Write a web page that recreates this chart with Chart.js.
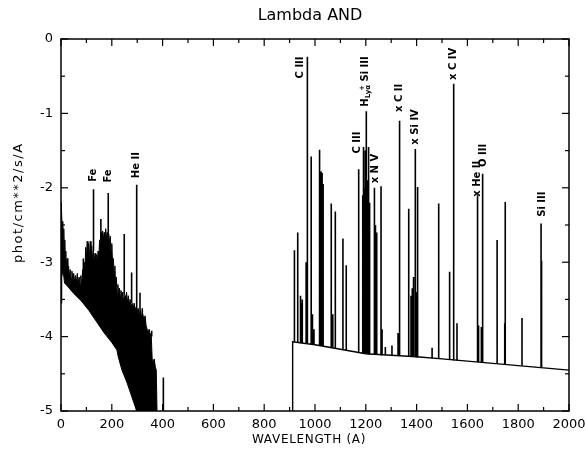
<!DOCTYPE html>
<html><head><meta charset="utf-8">
<script src="https://cdn.jsdelivr.net/npm/chart.js@4/dist/chart.umd.min.js"></script>
<style>html,body{margin:0;padding:0;background:#fff;}#wrap{width:586px;height:449px;}</style>
</head><body><div id="wrap"><canvas id="c" width="586" height="449"></canvas></div>
<script>
// ---- text ----
const titleText = 'Lambda AND';
const xAxisTitle = 'WAVELENGTH (A)';
const yAxisTitle = 'phot/cm**2/s/A';

// ---- axis ranges / ticks ----
const xRange = [0, 2000];
const yRange = [-5, 0];
const xMajorStep = 200, xMinorStep = 100;
const yMajorStep = 1, yMinorStep = 0.5;

// ---- continuum longward of 912 A (log flux) ----
const contLam = [912, 912, 1000, 1100, 1200, 1300, 1400, 1500, 1600, 1700, 1800, 1900, 2000];
const contVal = [-5, -4.07, -4.11, -4.17, -4.23, -4.25, -4.27, -4.30, -4.33, -4.36, -4.39, -4.42, -4.45];

// ---- EUV line forest (< 400 A): upper and lower envelope ----
const forestTopLam = [0, 1, 3, 5, 7, 9, 11, 13, 15, 17, 19, 21, 24, 27, 30, 33, 36, 40, 43, 47, 50, 54, 57, 61, 64, 68, 71, 75, 78, 82, 85, 88, 91, 94, 97, 100, 103, 106, 109, 112, 115, 118, 121, 124, 127, 131, 134, 137, 140, 143, 146, 149, 152, 155, 158, 161, 164, 167, 170, 173, 176, 179, 182, 185, 188, 191, 194, 197, 200, 203, 206, 209, 212, 215, 218, 221, 224, 227, 230, 233, 236, 240, 243, 246, 252, 255, 258, 262, 265, 269, 272, 276, 280, 284, 288, 292, 296, 300, 304, 308, 313, 318, 322, 327, 331, 335, 339, 343, 347, 351, 355, 359, 363, 367, 371, 375, 378];
const forestTopVal = [-3.55, -2.2, -2.3, -2.6, -2.45, -2.8, -2.55, -2.9, -2.7, -3.05, -2.85, -3.1, -2.95, -3.15, -3.05, -3.2, -3.1, -3.22, -3.12, -3.25, -3.15, -3.27, -3.18, -3.28, -3.15, -3.3, -3.2, -3.3, -3.18, -3.3, -3.1, -3.28, -3.0, -3.2, -2.8, -2.95, -2.72, -2.9, -2.75, -2.95, -2.72, -2.9, -2.78, -2.95, -2.85, -3.0, -2.88, -3.0, -2.9, -3.0, -2.85, -2.95, -2.7, -2.8, -2.6, -2.72, -2.58, -2.7, -2.6, -2.72, -2.55, -2.68, -2.6, -2.7, -2.62, -2.75, -2.65, -2.85, -2.75, -3.0, -2.95, -3.15, -3.05, -3.3, -3.2, -3.42, -3.3, -3.45, -3.35, -3.45, -3.38, -3.48, -3.4, -3.5, -3.45, -3.52, -3.4, -3.55, -3.45, -3.58, -3.5, -3.6, -3.55, -3.62, -3.55, -3.65, -3.6, -3.68, -3.62, -3.72, -3.65, -3.75, -3.7, -3.78, -3.72, -3.85, -3.9, -3.95, -3.9, -4.0, -3.95, -4.3, -4.35, -4.3, -4.4, -4.45, -5];
const forestBotLam = [0, 3, 8, 14, 25, 50, 80, 110, 140, 170, 200, 220, 226, 240, 260, 280, 298, 378];
const forestBotVal = [-3.55, -3.2, -3.1, -3.28, -3.32, -3.42, -3.52, -3.65, -3.8, -3.95, -4.08, -4.18, -4.28, -4.45, -4.62, -4.82, -5.0, -5.0];

// ---- emission lines: wavelength, foot, peak (log flux) ----
const lineLam  = [88, 128, 157, 186, 249, 278, 298, 311, 320, 357, 403,
  919, 932, 943, 946, 950, 965, 970, 985, 990, 996, 1018, 1024, 1028, 1032, 1064, 1070, 1080, 1110, 1123,
  1172, 1188, 1191, 1195, 1198, 1202, 1206, 1211, 1215, 1234, 1238, 1243, 1260, 1264, 1277, 1303, 1327, 1333,
  1369, 1378, 1383, 1388, 1395, 1399, 1404, 1461, 1487, 1530, 1546, 1559, 1640, 1644, 1655, 1660, 1717, 1747, 1749, 1815, 1890, 1892];
const lineBase = [-3.2, -2.85, -2.7, -2.65, -3.45, -3.55, -5, -3.7, -3.75, -4.0, -5,
  -4.07, -4.08, -4.08, -4.09, -4.09, -4.1, -4.1, -4.11, -4.11, -4.11, -4.12, -4.12, -4.12, -4.13, -4.15, -4.15, -4.16, -4.18, -4.19,
  -4.22, -4.23, -4.23, -4.23, -4.23, -4.23, -4.23, -4.24, -4.24, -4.24, -4.24, -4.24, -4.25, -4.25, -4.25, -4.26, -4.26, -4.26,
  -4.27, -4.27, -4.27, -4.27, -4.27, -4.28, -4.28, -4.29, -4.30, -4.31, -4.32, -4.32, -4.34, -4.34, -4.35, -4.35, -4.36, -4.37, -4.37, -4.39, -4.41, -4.41];
const linePeak = [-2.95, -2.02, -2.42, -2.07, -2.62, -3.14, -1.96, -3.41, -3.62, -3.92, -4.55,
  -2.84, -2.60, -3.45, -3.55, -3.5, -3.0, -0.24, -1.58, -3.7, -3.9, -1.49, -1.78, -1.8, -1.95, -2.21, -3.7, -2.32, -2.68, -3.04,
  -1.75, -2.1, -1.45, -2.0, -1.5, -0.97, -1.9, -1.45, -2.2, -2.0, -2.5, -2.6, -1.98, -3.9, -4.14, -4.12, -3.95, -1.10,
  -2.28, -3.45, -3.35, -3.2, -1.48, -3.4, -1.99, -4.15, -2.21, -3.13, -0.6, -3.82, -2.1, -3.85, -3.87, -1.81, -2.70, -3.82, -2.19, -3.75, -2.48, -2.98];

// ---- line identifications: text, wavelength, log flux at text start ----
const labelText = ['Fe', 'Fe', 'He II', 'C III', 'H_{Lyα}^{+} Si III', 'C III', 'x N V', 'x C II', 'x Si IV', 'x C IV', 'x He II', 'O III', 'Si III'];
const labelLam  = [127, 186, 296, 944, 1198, 1167, 1237, 1333, 1397, 1546, 1638, 1664, 1894];
const labelVal  = [-1.92, -1.93, -1.87, -0.53, -0.91, -1.54, -1.94, -0.98, -1.42, -0.55, -2.12, -1.72, -2.39];

// ---- build datasets from the arrays ----
const pts = (xs, ys) => xs.map((x, i) => ({x, y: ys[i]}));
const spikeData = [];
lineLam.forEach((l, i) => { spikeData.push({x: l, y: lineBase[i]}, {x: l, y: linePeak[i]}, {x: l, y: null}); });

const FONT = "'DejaVu Sans', sans-serif";

const framePlugin = {
  id: 'frame',
  afterDatasetsDraw(chart) {
    const {ctx, chartArea: {left, right, top, bottom}, scales: {x, y}} = chart;
    ctx.save();
    ctx.strokeStyle = '#000';
    ctx.lineWidth = 1.5;
    ctx.strokeRect(left, top, right - left, bottom - top);
    ctx.lineWidth = 1.2;
    const seg = (a, b, c, d) => { ctx.beginPath(); ctx.moveTo(a, b); ctx.lineTo(c, d); ctx.stroke(); };
    x.ticks.forEach(t => {
      const px = x.getPixelForValue(t.value);
      const L = (t.value % xMajorStep === 0) ? 7 : 4;
      seg(px, bottom, px, bottom - L); seg(px, top, px, top + L);
    });
    y.ticks.forEach(t => {
      const py = y.getPixelForValue(t.value);
      const L = (Math.abs(t.value % yMajorStep) < 1e-9) ? 7 : 4;
      seg(left, py, left + L, py); seg(right, py, right - L, py);
    });
    ctx.fillStyle = '#000';
    // title
    ctx.font = "16px " + FONT;
    ctx.textAlign = 'center'; ctx.textBaseline = 'middle';
    ctx.fillText(titleText, (left + right) / 2 - 5, 16);
    // axis titles
    ctx.font = "12px " + FONT;
    ctx.letterSpacing = '0.7px';
    ctx.fillText(xAxisTitle, (left + right) / 2 - 6, 440);
    ctx.save();
    ctx.translate(19, y.getPixelForValue(-2.2));
    ctx.rotate(-Math.PI / 2);
    ctx.font = "13px " + FONT;
    ctx.letterSpacing = '1.5px';
    ctx.fillText(yAxisTitle, 0, 0);
    ctx.restore();
    ctx.letterSpacing = '0px';
    // line identifications (rotated, reading upward)
    labelText.forEach((txt, i) => {
      const px = x.getPixelForValue(labelLam[i]);
      const py = y.getPixelForValue(labelVal[i]);
      ctx.save();
      ctx.translate(px, py);
      ctx.rotate(-Math.PI / 2);
      ctx.textAlign = 'left'; ctx.textBaseline = 'middle';
      const parts = txt.split(/(_\{[^}]*\}|\^\{[^}]*\})/).filter(s => s.length);
      let cx = 0, subStart = null, subW = 0;
      parts.forEach(p => {
        let dy = 0, size = 10, s = p, isSub = false, isSup = false;
        if (p.startsWith('_{')) { s = p.slice(2, -1); size = 7; dy = 3; isSub = true; }
        else if (p.startsWith('^{')) { s = p.slice(2, -1); size = 7; dy = -3; isSup = true; }
        ctx.font = "bold " + size + "px " + FONT;
        const w = ctx.measureText(s).width;
        if (isSup && subStart !== null) {
          ctx.fillText(s, subStart + subW - w, dy);
        } else {
          ctx.fillText(s, cx, dy);
          if (isSub) { subStart = cx; subW = w; } else { subStart = null; }
          cx += w;
        }
      });
      ctx.restore();
    });
    ctx.restore();
  }
};

new Chart(document.getElementById('c'), {
  type: 'scatter',
  data: {
    datasets: [
      {data: pts(forestTopLam, forestTopVal), showLine: true, borderColor: '#000', backgroundColor: '#000', borderWidth: 1, pointRadius: 0, fill: '+1', tension: 0},
      {data: pts(forestBotLam, forestBotVal), showLine: true, borderColor: '#000', borderWidth: 1, pointRadius: 0, fill: false, tension: 0},
      {data: pts(contLam, contVal), showLine: true, borderColor: '#000', borderWidth: 1.4, pointRadius: 0, fill: false, tension: 0},
      {data: spikeData, showLine: true, borderColor: '#000', borderWidth: 1.6, pointRadius: 0, fill: false, spanGaps: false, tension: 0}
    ]
  },
  options: {
    responsive: false,
    animation: false,
    devicePixelRatio: 1,
    layout: {padding: {left: 0, right: 17, top: 39, bottom: 0}},
    plugins: {legend: {display: false}, tooltip: {enabled: false}, title: {display: false}},
    scales: {
      x: {
        type: 'linear', min: xRange[0], max: xRange[1],
        grid: {display: false, drawTicks: false},
        border: {display: false},
        ticks: {stepSize: xMinorStep, autoSkip: false, maxRotation: 0, color: '#000', padding: 6,
          font: {family: FONT, size: 13},
          callback: v => (v % xMajorStep === 0 ? String(v) : '')},
        title: {display: false},
        afterFit: s => { s.height = 38; s.paddingRight = 0; s.paddingLeft = 0; }
      },
      y: {
        type: 'linear', min: yRange[0], max: yRange[1],
        grid: {display: false, drawTicks: false},
        border: {display: false},
        ticks: {stepSize: yMinorStep, autoSkip: false, color: '#000', padding: 8,
          font: {family: FONT, size: 13},
          callback: v => (Math.abs(v % yMajorStep) < 1e-9 ? String(v) : '')},
        title: {display: false},
        afterFit: s => { s.width = 61; }
      }
    }
  },
  plugins: [framePlugin]
});
</script></body></html>
